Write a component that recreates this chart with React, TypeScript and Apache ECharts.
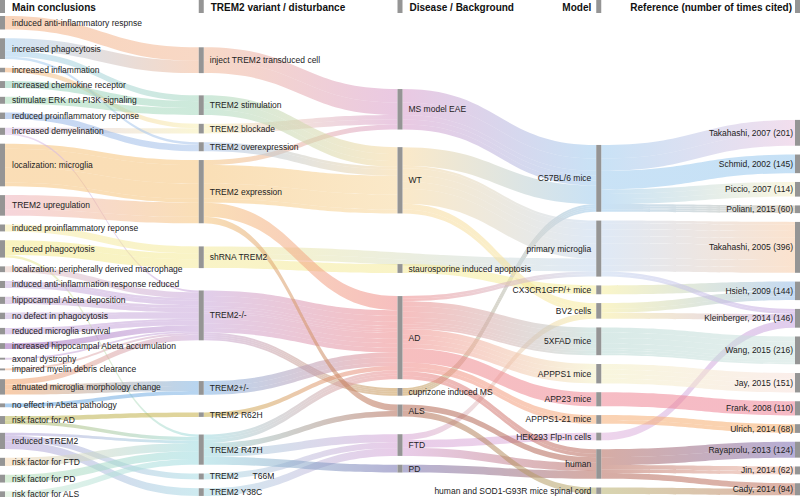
import React, { useEffect, useRef } from "react";
import * as echarts from "echarts";

// ---------- data ----------
const conclusions = [
  "induced anti-inflammatory respnse",
  "increased phagocytosis",
  "increased inflammation",
  "increased chemokine receptor",
  "stimulate ERK not PI3K signaling",
  "reduced proinflammatory reponse",
  "increased demyelination",
  "localization: microglia",
  "TREM2 upregulation",
  "induced proinflammatory reponse",
  "reduced phagocytosis",
  "localization: peripherally derived macrophage",
  "induced anti-inflammation response reduced",
  "hippocampal Abeta deposition",
  "no defect in phagocytosis",
  "reduced microglia survival",
  "increased hippocampal Abeta accumulation",
  "axonal dystrophy",
  "impaired myelin debris clearance",
  "attnuated microglia morphology change",
  "no effect in Abeta pathology",
  "risk factor for AD",
  "reduced sTREM2",
  "risk factor for FTD",
  "risk factor for PD",
  "risk factor for ALS",
];

const variants = [
  "inject TREM2 transduced cell",
  "TREM2 stimulation",
  "TREM2 blockade",
  "TREM2 overexpression",
  "TREM2 expression",
  "shRNA TREM2",
  "TREM2-/-",
  "TREM2+/-",
  "TREM2 R62H",
  "TREM2 R47H",
  "TREM2      T66M",
  "TREM2 Y38C",
];

const diseases = [
  "MS model EAE",
  "WT",
  "staurosporine induced apoptosis",
  "AD",
  "cuprizone induced MS",
  "ALS",
  "FTD",
  "PD",
];

const models = [
  "C57BL/6 mice",
  "primary microglia",
  "CX3CR1GFP/+ mice",
  "BV2 cells",
  "5XFAD mice",
  "APPPS1 mice",
  "APP23 mice",
  "APPPS1-21 mice",
  "HEK293 Flp-In cells",
  "human",
  "human and SOD1-G93R mice spinal cord",
];

const references = [
  "Takahashi, 2007 (201)",
  "Schmid, 2002 (145)",
  "Piccio, 2007 (114)",
  "Poliani, 2015 (60)",
  "Takahashi, 2005 (396)",
  "Hsieh, 2009 (144)",
  "Kleinberger, 2014 (146)",
  "Wang, 2015 (216)",
  "Jay, 2015 (151)",
  "Frank, 2008 (110)",
  "Ulrich, 2014 (68)",
  "Rayaprolu, 2013 (124)",
  "Jin, 2014 (62)",
  "Cady, 2014 (94)",
];

// [conclusion, variant, disease (null = none), model, reference, value]
const paths: [string, string, string | null, string, string, number][] = [
  ["induced anti-inflammatory respnse", "inject TREM2 transduced cell", "MS model EAE", "C57BL/6 mice", "Takahashi, 2007 (201)", 105],
  ["increased phagocytosis", "inject TREM2 transduced cell", "MS model EAE", "C57BL/6 mice", "Takahashi, 2007 (201)", 96],
  ["increased inflammation", "TREM2 blockade", "MS model EAE", "C57BL/6 mice", "Piccio, 2007 (114)", 35],
  ["increased demyelination", "TREM2 blockade", "MS model EAE", "C57BL/6 mice", "Piccio, 2007 (114)", 40],
  ["localization: microglia", "TREM2 expression", "MS model EAE", "C57BL/6 mice", "Piccio, 2007 (114)", 39],
  ["localization: microglia", "TREM2 expression", "WT", "C57BL/6 mice", "Schmid, 2002 (145)", 145],
  ["increased demyelination", "TREM2-/-", "cuprizone induced MS", "C57BL/6 mice", "Poliani, 2015 (60)", 15],
  ["axonal dystrophy", "TREM2-/-", "cuprizone induced MS", "C57BL/6 mice", "Poliani, 2015 (60)", 15],
  ["impaired myelin debris clearance", "TREM2-/-", "cuprizone induced MS", "C57BL/6 mice", "Poliani, 2015 (60)", 15],
  ["reduced microglia survival", "TREM2-/-", "cuprizone induced MS", "C57BL/6 mice", "Poliani, 2015 (60)", 15],
  ["increased phagocytosis", "TREM2 overexpression", "WT", "primary microglia", "Takahashi, 2005 (396)", 20],
  ["reduced proinflammatory reponse", "TREM2 overexpression", "WT", "primary microglia", "Takahashi, 2005 (396)", 50],
  ["increased chemokine receptor", "TREM2 stimulation", "WT", "primary microglia", "Takahashi, 2005 (396)", 54],
  ["stimulate ERK not PI3K signaling", "TREM2 stimulation", "WT", "primary microglia", "Takahashi, 2005 (396)", 54],
  ["localization: microglia", "TREM2 expression", "WT", "primary microglia", "Takahashi, 2005 (396)", 118],
  ["induced proinflammatory reponse", "shRNA TREM2", null, "primary microglia", "Takahashi, 2005 (396)", 54],
  ["reduced phagocytosis", "shRNA TREM2", null, "primary microglia", "Takahashi, 2005 (396)", 46],
  ["increased phagocytosis", "TREM2 stimulation", "WT", "BV2 cells", "Hsieh, 2009 (144)", 45],
  ["localization: microglia", "TREM2 expression", "WT", "BV2 cells", "Hsieh, 2009 (144)", 30],
  ["reduced phagocytosis", "shRNA TREM2", "staurosporine induced apoptosis", "CX3CR1GFP/+ mice", "Hsieh, 2009 (144)", 69],
  ["reduced phagocytosis", "TREM2 R47H", "AD", "primary microglia", "Kleinberger, 2014 (146)", 20],
  ["reduced sTREM2", "TREM2 R47H", "AD", "primary microglia", "Kleinberger, 2014 (146)", 20],
  ["reduced sTREM2", "TREM2      T66M", "FTD", "BV2 cells", "Kleinberger, 2014 (146)", 46],
  ["reduced sTREM2", "TREM2 Y38C", "FTD", "HEK293 Flp-In cells", "Kleinberger, 2014 (146)", 60],
  ["attnuated microglia morphology change", "TREM2+/-", "AD", "5XFAD mice", "Wang, 2015 (216)", 39],
  ["attnuated microglia morphology change", "TREM2-/-", "AD", "5XFAD mice", "Wang, 2015 (216)", 43],
  ["increased hippocampal Abeta accumulation", "TREM2-/-", "AD", "5XFAD mice", "Wang, 2015 (216)", 45],
  ["reduced microglia survival", "TREM2-/-", "AD", "5XFAD mice", "Wang, 2015 (216)", 35],
  ["hippocampal Abeta deposition", "TREM2-/-", "AD", "5XFAD mice", "Wang, 2015 (216)", 20],
  ["induced anti-inflammation response reduced", "TREM2-/-", "AD", "5XFAD mice", "Wang, 2015 (216)", 20],
  ["no defect in phagocytosis", "TREM2-/-", "AD", "5XFAD mice", "Wang, 2015 (216)", 14],
  ["localization: peripherally derived macrophage", "TREM2-/-", "AD", "APPPS1 mice", "Jay, 2015 (151)", 45],
  ["induced anti-inflammation response reduced", "TREM2-/-", "AD", "APPPS1 mice", "Jay, 2015 (151)", 35],
  ["hippocampal Abeta deposition", "TREM2-/-", "AD", "APPPS1 mice", "Jay, 2015 (151)", 35],
  ["no defect in phagocytosis", "TREM2-/-", "AD", "APPPS1 mice", "Jay, 2015 (151)", 36],
  ["attnuated microglia morphology change", "TREM2+/-", "AD", "APPPS1-21 mice", "Ulrich, 2014 (68)", 38],
  ["no effect in Abeta pathology", "TREM2+/-", "AD", "APPPS1-21 mice", "Ulrich, 2014 (68)", 30],
  ["TREM2 upregulation", "TREM2 expression", "AD", "APP23 mice", "Frank, 2008 (110)", 110],
  ["risk factor for AD", "TREM2 R62H", "AD", "human", "Jin, 2014 (62)", 35],
  ["risk factor for AD", "TREM2 R47H", "AD", "human", "Jin, 2014 (62)", 27],
  ["risk factor for FTD", "TREM2 R47H", "FTD", "human", "Rayaprolu, 2013 (124)", 63],
  ["risk factor for PD", "TREM2 R47H", "PD", "human", "Rayaprolu, 2013 (124)", 61],
  ["risk factor for ALS", "TREM2 R47H", "ALS", "human", "Cady, 2014 (94)", 44],
  ["TREM2 upregulation", "TREM2 expression", "ALS", "human and SOD1-G93R mice spinal cord", "Cady, 2014 (94)", 50],
];

const headers = ["Main conclusions", "TREM2 variant / disturbance", "Disease / Background", "Model", "Reference (number of times cited)"];

// ---------- layout: invisible spacer weight placed above a node (vertical breathing room) ----------
const spacerBefore: Record<string, number> = {
  "inject TREM2 transduced cell": 175,
  "TREM2 stimulation": 36,
  "shRNA TREM2": 43,
  "TREM2-/-": 37,
  "TREM2+/-": 180,
  "TREM2 R62H": 0,
  "TREM2 R47H": 0,
  "MS model EAE": 500,
  "WT": 0,
  "staurosporine induced apoptosis": 257,
  "AD": 43,
  "FTD": 0,
  "C57BL/6 mice": 935,
  "Takahashi, 2007 (201)": 740,
};

// ---------- styles ----------
const nodeColors: Record<string, string> = {
  "induced anti-inflammatory respnse": "#f4b183",
  "increased phagocytosis": "#a8cff0",
  "increased inflammation": "#f2b27a",
  "increased chemokine receptor": "#97d3bd",
  "stimulate ERK not PI3K signaling": "#a3d9b5",
  "reduced proinflammatory reponse": "#93b3e6",
  "increased demyelination": "#d8bde8",
  "localization: microglia": "#f6c27a",
  "TREM2 upregulation": "#eeb2bd",
  "induced proinflammatory reponse": "#f5e9a6",
  "reduced phagocytosis": "#f3e98a",
  "localization: peripherally derived macrophage": "#e6c8c0",
  "induced anti-inflammation response reduced": "#c8b2de",
  "hippocampal Abeta deposition": "#c9aed6",
  "no defect in phagocytosis": "#c7b1dc",
  "reduced microglia survival": "#c3a5da",
  "increased hippocampal Abeta accumulation": "#9a62b8",
  "axonal dystrophy": "#c8a8d8",
  "impaired myelin debris clearance": "#f2b48c",
  "attnuated microglia morphology change": "#f4a262",
  "no effect in Abeta pathology": "#63a4e0",
  "risk factor for AD": "#b5b454",
  "reduced sTREM2": "#b69ed6",
  "risk factor for FTD": "#f5d6b0",
  "risk factor for PD": "#b4dcb2",
  "risk factor for ALS": "#d3ead0",
  "inject TREM2 transduced cell": "#f2b896",
  "TREM2 stimulation": "#a5d8be",
  "TREM2 blockade": "#f7efb3",
  "TREM2 overexpression": "#a6c2ea",
  "TREM2 expression": "#f6c47a",
  "shRNA TREM2": "#f4ea98",
  "TREM2-/-": "#c8a6da",
  "TREM2+/-": "#7cb2e4",
  "TREM2 R62H": "#c7b048",
  "TREM2 R47H": "#9cdae0",
  "TREM2      T66M": "#a6dce3",
  "TREM2 Y38C": "#a6dae4",
  "MS model EAE": "#d89ccb",
  "WT": "#f7d79c",
  "staurosporine induced apoptosis": "#f4ea98",
  "AD": "#ef8a8a",
  "cuprizone induced MS": "#c8974f",
  "ALS": "#b46a55",
  "FTD": "#d6a2d6",
  "PD": "#7773b2",
  "C57BL/6 mice": "#9ccaee",
  "primary microglia": "#c4d7ef",
  "CX3CR1GFP/+ mice": "#f6ee9c",
  "BV2 cells": "#f6ec9c",
  "5XFAD mice": "#b9d9d4",
  "APPPS1 mice": "#f3efc2",
  "APP23 mice": "#ef8694",
  "APPPS1-21 mice": "#f6ae76",
  "HEK293 Flp-In cells": "#e0b2dc",
  "human": "#b5685a",
  "human and SOD1-G93R mice spinal cord": "#b8b26e",
  "Takahashi, 2007 (201)": "#e8c3df",
  "Schmid, 2002 (145)": "#98c8ee",
  "Piccio, 2007 (114)": "#f6efc6",
  "Poliani, 2015 (60)": "#c6b79e",
  "Takahashi, 2005 (396)": "#f8cba6",
  "Hsieh, 2009 (144)": "#94bae6",
  "Kleinberger, 2014 (146)": "#c7a4df",
  "Wang, 2015 (216)": "#cde2de",
  "Jay, 2015 (151)": "#f7e0da",
  "Frank, 2008 (110)": "#ee8296",
  "Ulrich, 2014 (68)": "#f6ad6a",
  "Rayaprolu, 2013 (124)": "#7a6cb2",
  "Jin, 2014 (62)": "#f2bdac",
  "Cady, 2014 (94)": "#c27762",
};

const FONT = "'Liberation Sans', Arial, Helvetica, sans-serif";
const NODE_GRAY = "#959595";

function buildOption() {
  const columns = [conclusions, variants, diseases, models, references];
  const nodes: any[] = [];
  columns.forEach((col, depth) => {
    col.forEach((name) => {
      if (spacerBefore[name] !== undefined) {
        nodes.push({
          name: "__spacer_" + name,
          depth,
          value: spacerBefore[name],
          itemStyle: { color: "rgba(0,0,0,0)", opacity: 0 },
          label: { show: false },
          silent: true,
        });
      }
      const leftLabel = depth >= 3;
      nodes.push({
        name,
        depth,
        itemStyle: { color: NODE_GRAY, borderWidth: 0 },
        label: {
          position: leftLabel ? "left" : "right",
          distance: depth === 4 ? 2 : depth === 3 ? 5 : depth === 0 ? 7 : 6,
        },
      });
    });
  });

  const links: any[] = [];
  paths.forEach((p) => {
    const value = p[5];
    const chain = [p[0], p[1], p[2], p[3], p[4]].filter((n) => n !== null) as string[];
    for (let i = 0; i < chain.length - 1; i++) {
      const s = chain[i];
      const t = chain[i + 1];
      links.push({
        source: s,
        target: t,
        value,
        lineStyle: {
          color: {
            type: "linear",
            x: 0, y: 0, x2: 1, y2: 0,
            colorStops: [
              { offset: 0, color: nodeColors[s] || "#ccc" },
              { offset: 1, color: nodeColors[t] || "#ccc" },
            ],
          },
        },
      });
    }
  });

  const colX = [0, 198.75, 397.5, 596.25, 795];
  const graphic: any[] = [];
  headers.forEach((h, i) => {
    graphic.push({
      type: "rect",
      shape: { x: colX[i], y: 0, width: 5, height: 13 },
      style: { fill: NODE_GRAY },
      silent: true,
    });
    const right = i >= 3;
    graphic.push({
      type: "text",
      x: right ? colX[i] - (i === 4 ? 3 : 5) : colX[i] + 12,
      y: 7,
      style: {
        text: h,
        fill: "#111",
        font: `bold 10px ${FONT}`,
        textAlign: right ? "right" : "left",
        textVerticalAlign: "middle",
      },
      silent: true,
    });
  });

  return {
    animation: false,
    backgroundColor: "#ffffff",
    graphic,
    series: [
      {
        type: "sankey",
        left: 0,
        right: 0,
        top: 16,
        bottom: 1,
        nodeWidth: 5,
        nodeGap: 8.8,
        layoutIterations: 0,
        nodeAlign: "left",
        draggable: false,
        emphasis: { disabled: true },
        data: nodes,
        links,
        label: {
          color: "#222",
          fontSize: 8.5,
          fontFamily: FONT,
        },
        lineStyle: { opacity: 0.55, curveness: 0.5 },
      },
    ],
  };
}

export default function App() {
  const ref = useRef<HTMLDivElement>(null);
  useEffect(() => {
    if (!ref.current) return;
    const chart = echarts.init(ref.current, undefined, { renderer: "svg" });
    chart.setOption(buildOption() as any);
    return () => chart.dispose();
  }, []);
  return (
    <div
      ref={ref}
      style={{ position: "absolute", left: 0, top: 0, width: 800, height: 498, background: "#fff" }}
    />
  );
}
